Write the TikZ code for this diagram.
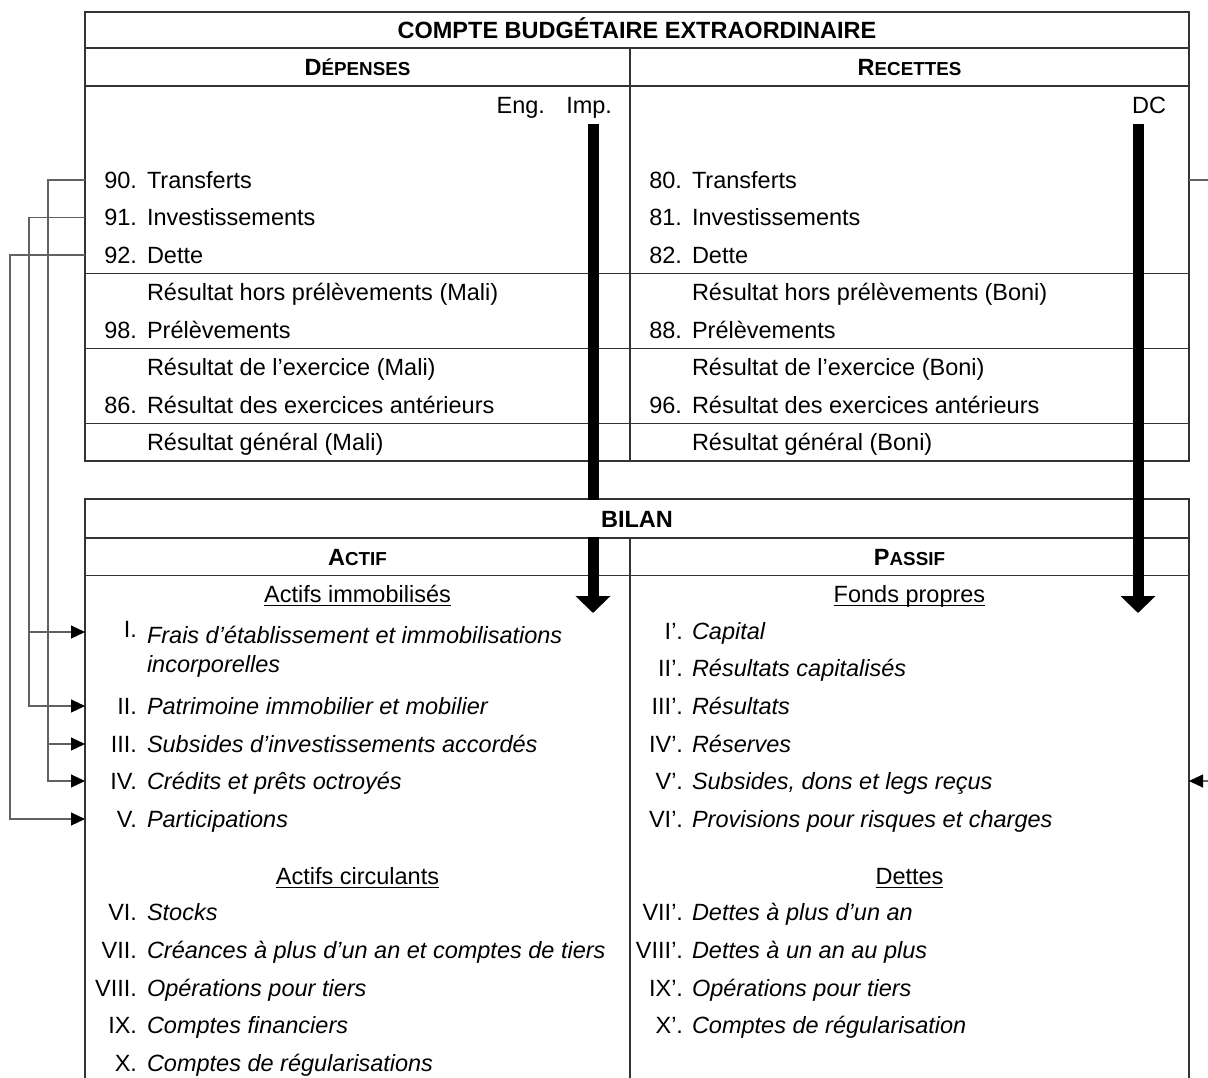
\documentclass[tikz,border=0pt]{standalone}
\usepackage{fontspec}
\setmainfont{Liberation Sans}
\usetikzlibrary{arrows.meta}

\newcommand\bodysize{\fontsize{23.5}{29}\selectfont}
\newcommand\smallcapsize{\fontsize{18.8}{22}\selectfont}
\newcommand\fakesc[2]{#1{\smallcapsize #2}}

\tikzset{
  frame/.style={draw=black!80, line width=1.2pt},
  txt/.style={inner sep=0pt, outer sep=0pt, font=\bodysize},
  num/.style={txt, anchor=base east},
  lbl/.style={txt, anchor=base west},
  itl/.style={txt, anchor=base west, font=\bodysize\itshape},
  head/.style={txt, anchor=base, font=\bodysize\bfseries},
  sub/.style={txt, anchor=base},
  uline/.style={draw=black, line width=1.3pt},
  link/.style={draw=black!62, line width=1.1pt},
  tip/.style={-{Triangle[length=14pt,width=13pt,color=black,fill=black]}},
  flow/.style={draw=black, line width=11pt, -{Triangle[length=17pt,width=34pt]}}
}

\begin{document}
\begin{tikzpicture}[x=1pt,y=-1pt]
\useasboundingbox (0,0) rectangle (1208,1077);
\fill[white] (0,0) rectangle (1208,1077);
\clip (0,0) rectangle (1208,1077);

% ---------- Compte budgétaire extraordinaire ----------
\draw[frame] (85,12) rectangle (1189,461);
\draw[frame] (85,48) -- (1189,48);
\draw[frame] (85,86) -- (1189,86);
\draw[frame] (630,48) -- (630,461);
\draw[frame] (85,273.5) -- (1189,273.5);
\draw[frame] (85,348.5) -- (1189,348.5);
\draw[frame] (85,423.5) -- (1189,423.5);

\node[head] (cbTitle) at (637,38.4) {COMPTE BUDGÉTAIRE EXTRAORDINAIRE};
\node[head] (hDep) at (357.5,75.5) {\fakesc{D}{ÉPENSES}};
\node[head] (hRec) at (909.5,75.5) {\fakesc{R}{ECETTES}};

\node[num] (eng) at (545,113) {Eng.};
\node[num] (imp) at (612,113) {Imp.};
\node[num] (dc)  at (1166,113) {DC};

% dépenses
\node[num] (n90) at (137,188) {90.};   \node[lbl] (t90) at (147,188) {Transferts};
\node[num] (n91) at (137,225.5) {91.}; \node[lbl] (t91) at (147,225.5) {Investissements};
\node[num] (n92) at (137,263) {92.};   \node[lbl] (t92) at (147,263) {Dette};
\node[lbl] (rhpM) at (147,300.5) {Résultat hors prélèvements (Mali)};
\node[num] (n98) at (137,338) {98.};   \node[lbl] (t98) at (147,338) {Prélèvements};
\node[lbl] (rexM) at (147,375.5) {Résultat de l’exercice (Mali)};
\node[num] (n86) at (137,413) {86.};   \node[lbl] (t86) at (147,413) {Résultat des exercices antérieurs};
\node[lbl] (rgM) at (147,450.5) {Résultat général (Mali)};

% recettes
\node[num] (n80) at (682,188) {80.};   \node[lbl] (t80) at (692,188) {Transferts};
\node[num] (n81) at (682,225.5) {81.}; \node[lbl] (t81) at (692,225.5) {Investissements};
\node[num] (n82) at (682,263) {82.};   \node[lbl] (t82) at (692,263) {Dette};
\node[lbl] (rhpB) at (692,300.5) {Résultat hors prélèvements (Boni)};
\node[num] (n88) at (682,338) {88.};   \node[lbl] (t88) at (692,338) {Prélèvements};
\node[lbl] (rexB) at (692,375.5) {Résultat de l’exercice (Boni)};
\node[num] (n96) at (682,413) {96.};   \node[lbl] (t96) at (692,413) {Résultat des exercices antérieurs};
\node[lbl] (rgB) at (692,450.5) {Résultat général (Boni)};

% ---------- Bilan ----------
\draw[frame] (85,1090) -- (85,499) -- (1189,499) -- (1189,1090);
\draw[frame] (85,538) -- (1189,538);
\draw[frame] (85,575.5) -- (1189,575.5);
\draw[frame] (630,538) -- (630,1090);

\node[head] (hAct) at (357.5,565) {\fakesc{A}{CTIF}};
\node[head] (hPas) at (909.5,565) {\fakesc{P}{ASSIF}};

% actif
\node[sub] (hImmo) at (357.5,602) {Actifs immobilisés};
\draw[uline] ([yshift=-3.2pt]hImmo.base west) -- ([yshift=-3.2pt]hImmo.base east);
\node[num] (rI) at (137,637) {I.};
\node[itl] (aI) at (147,643) {Frais d’établissement et immobilisations};
\node[itl] (aIb) at (147,672) {incorporelles};
\node[num] (rII) at (137,714) {II.};   \node[itl] (aII) at (147,714) {Patrimoine immobilier et mobilier};
\node[num] (rIII) at (137,752) {III.}; \node[itl] (aIII) at (147,752) {Subsides d’investissements accordés};
\node[num] (rIV) at (137,789) {IV.};   \node[itl] (aIV) at (147,789) {Crédits et prêts octroyés};
\node[num] (rV) at (137,827) {V.};     \node[itl] (aV) at (147,827) {Participations};

\node[sub] (hCirc) at (357.5,884) {Actifs circulants};
\draw[uline] ([yshift=-3.2pt]hCirc.base west) -- ([yshift=-3.2pt]hCirc.base east);
\node[num] (rVI) at (137,920) {VI.};     \node[itl] (aVI) at (147,920) {Stocks};
\node[num] (rVII) at (137,958) {VII.};   \node[itl] (aVII) at (147,958) {Créances à plus d’un an et comptes de tiers};
\node[num] (rVIII) at (137,996) {VIII.}; \node[itl] (aVIII) at (147,996) {Opérations pour tiers};
\node[num] (rIX) at (137,1033) {IX.};    \node[itl] (aIX) at (147,1033) {Comptes financiers};
\node[num] (rX) at (137,1071) {X.};      \node[itl] (aX) at (147,1071) {Comptes de régularisations};

% passif
\node[sub] (hFonds) at (909.5,602) {Fonds propres};
\draw[uline] ([yshift=-3.2pt]hFonds.base west) -- ([yshift=-3.2pt]hFonds.base east);
\node[num] (pI) at (683,639) {I’.};       \node[itl] (qI) at (692,639) {Capital};
\node[num] (pII) at (683,676) {II’.};     \node[itl] (qII) at (692,676) {Résultats capitalisés};
\node[num] (pIII) at (683,714) {III’.};   \node[itl] (qIII) at (692,714) {Résultats};
\node[num] (pIV) at (683,752) {IV’.};     \node[itl] (qIV) at (692,752) {Réserves};
\node[num] (pV) at (683,789) {V’.};       \node[itl] (qV) at (692,789) {Subsides, dons et legs reçus};
\node[num] (pVI) at (683,827) {VI’.};     \node[itl] (qVI) at (692,827) {Provisions pour risques et charges};

\node[sub] (hDettes) at (909.5,884) {Dettes};
\draw[uline] ([yshift=-3.2pt]hDettes.base west) -- ([yshift=-3.2pt]hDettes.base east);
\node[num] (pVII) at (683,920) {VII’.};   \node[itl] (qVII) at (692,920) {Dettes à plus d’un an};
\node[num] (pVIII) at (683,958) {VIII’.}; \node[itl] (qVIII) at (692,958) {Dettes à un an au plus};
\node[num] (pIX) at (683,996) {IX’.};     \node[itl] (qIX) at (692,996) {Opérations pour tiers};
\node[num] (pX) at (683,1033) {X’.};      \node[itl] (qX) at (692,1033) {Comptes de régularisation};

% ---------- connector ports and bends ----------
\coordinate (o90) at (85,180);   \coordinate (k90) at (48,180);
\coordinate (o91) at (85,217.5); \coordinate (k91) at (29,217.5);
\coordinate (o92) at (85,255);   \coordinate (k92) at (10,255);
\coordinate (iI) at (85,632);
\coordinate (iII) at (85,706);
\coordinate (iIII) at (85,744);
\coordinate (iIV) at (85,781);
\coordinate (iV) at (85,819);
\coordinate (o80) at (1189,180); \coordinate (k80) at (1225,180);
\coordinate (iVp) at (1189,781);

\draw[link,tip] (o90) -- (k90) |- (iIV);
\draw[link,tip] (k90 |- iIII) -- (iIII);
\draw[link,tip] (o91) -- (k91) |- (iII);
\draw[link,tip] (k91 |- iI) -- (iI);
\draw[link,tip] (o92) -- (k92) |- (iV);
\draw[link,tip] (o80) -- (k80) |- (iVp);

% ---------- flows into the balance sheet ----------
\coordinate (impTop) at (593,124);  \coordinate (impEnd) at (593,613);
\coordinate (dcTop) at (1138,124);  \coordinate (dcEnd) at (1138,613);
\draw[flow] (impTop) -- (impEnd);
\draw[flow] (dcTop) -- (dcEnd);

% title band of the balance sheet sits above the left flow
\fill[white] (585,499.6) rectangle (690,537.4);
\node[head] (bTitle) at (637,527.4) {BILAN};
\end{tikzpicture}
\end{document}
